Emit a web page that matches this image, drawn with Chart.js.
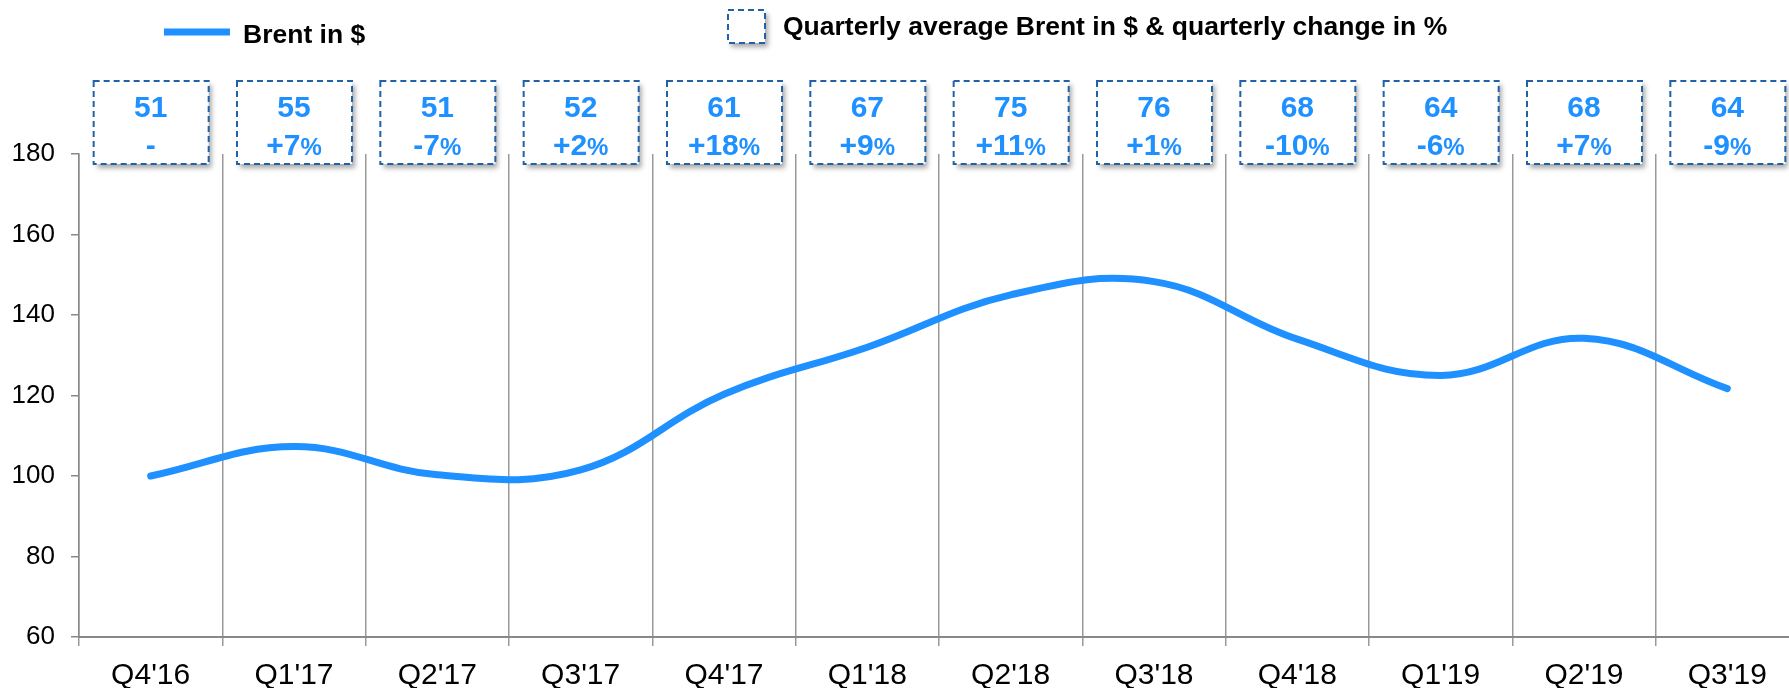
<!DOCTYPE html>
<html>
<head>
<meta charset="utf-8">
<title>Brent</title>
<script src="https://cdn.jsdelivr.net/npm/chart.js@4.4.1/dist/chart.umd.min.js"></script>
<style>
  html, body { margin: 0; padding: 0; background: #fff; overflow: hidden; }
  canvas { display: block; }
</style>
</head>
<body>
<canvas id="brentChart" width="1800" height="688"></canvas>
<script>
/* =========================
    DATA
========================= */

const quarters = ["Q4'16", "Q1'17", "Q2'17", "Q3'17", "Q4'17", "Q1'18",
                  "Q2'18", "Q3'18", "Q4'18", "Q1'19", "Q2'19", "Q3'19"];

// Brent index (Q4'16 = 100)
const brentIndex = [100, 107.3, 100.3, 101.5, 120.3, 132, 145, 148.3, 134, 125, 134.2, 121.7];

// quarterly average in $ and change vs. previous quarter in %
const avgPrice = [51, 55, 51, 52, 61, 67, 75, 76, 68, 64, 68, 64];
const qoqChange = [null, 7, -7, 2, 18, 9, 11, 1, -10, -6, 7, -9];

const yTicks = [60, 80, 100, 120, 140, 160, 180];


/* =========================
    STYLE
========================= */

const BLUE = "#1E90FF";
const BOX_BORDER = "#1F62A8";
const FONT = "'Liberation Sans', Arial, sans-serif";


/* =========================
    HELPERS
========================= */

// white box with soft shadow and dashed border
function dashedBox(ctx, x, y, w, h) {
  ctx.save();
  ctx.shadowColor = "rgba(0,0,0,0.35)";
  ctx.shadowBlur = 5;
  ctx.shadowOffsetX = 3;
  ctx.shadowOffsetY = 4;
  ctx.fillStyle = "#fff";
  ctx.fillRect(x, y, w, h);
  ctx.restore();

  ctx.save();
  ctx.strokeStyle = BOX_BORDER;
  ctx.lineWidth = 2;
  ctx.setLineDash([6, 4]);
  ctx.strokeRect(x, y, w, h);
  ctx.restore();
}

function changeText(c) {
  if (c === null) return null;
  return (c > 0 ? "+" : "") + c;
}


/* =========================
    BOXES + LEGEND PLUGIN
========================= */

const quarterBoxes = {
  id: "quarterBoxes",
  afterDraw(chart) {
    const ctx = chart.ctx;
    const xs = chart.scales.x;

    // legend
    ctx.save();
    ctx.strokeStyle = BLUE;
    ctx.lineWidth = 7;
    ctx.beginPath();
    ctx.moveTo(164, 32);
    ctx.lineTo(230, 32);
    ctx.stroke();
    ctx.fillStyle = "#000";
    ctx.font = "bold 26.5px " + FONT;
    ctx.textBaseline = "alphabetic";
    ctx.textAlign = "left";
    ctx.fillText("Brent in $", 243, 43);
    ctx.restore();

    dashedBox(ctx, 728, 10, 37, 33);
    ctx.save();
    ctx.fillStyle = "#000";
    ctx.font = "bold 26.5px " + FONT;
    ctx.textAlign = "left";
    ctx.fillText("Quarterly average Brent in $ & quarterly change in %", 783, 35);
    ctx.restore();

    // one box per quarter
    quarters.forEach((q, i) => {
      const cx = xs.getPixelForValue(i);
      dashedBox(ctx, cx - 57, 81, 115, 83);

      ctx.save();
      ctx.fillStyle = BLUE;
      ctx.textBaseline = "alphabetic";
      ctx.textAlign = "center";
      ctx.font = "bold 30px " + FONT;
      ctx.fillText(String(avgPrice[i]), cx, 117);

      const num = changeText(qoqChange[i]);
      if (num === null) {
        ctx.fillText("-", cx, 155);
      } else {
        ctx.textAlign = "left";
        ctx.font = "bold 30px " + FONT;
        const w1 = ctx.measureText(num).width;
        ctx.font = "bold 24px " + FONT;
        const w2 = ctx.measureText("%").width;
        const start = cx - (w1 + w2) / 2;
        ctx.font = "bold 30px " + FONT;
        ctx.fillText(num, start, 155);
        ctx.font = "bold 24px " + FONT;
        ctx.fillText("%", start + w1, 155);
      }
      ctx.restore();
    });
  }
};


/* =========================
    CHART
========================= */

new Chart(document.getElementById("brentChart"), {
  type: "line",
  data: {
    labels: quarters,
    datasets: [{
      label: "Brent in $",
      data: brentIndex,
      borderColor: BLUE,
      borderWidth: 7,
      tension: 0.4,
      pointRadius: 0,
      borderCapStyle: "round",
      borderJoinStyle: "round",
      fill: false
    }]
  },
  options: {
    responsive: false,
    animation: false,
    layout: { padding: { top: 154, right: 1, left: 0, bottom: 0 } },
    plugins: {
      legend: { display: false },
      tooltip: { enabled: false }
    },
    scales: {
      x: {
        offset: true,
        grid: { offset: true, color: "#999", lineWidth: 1.5, tickLength: 9 },
        border: { color: "#888", width: 2 },
        ticks: {
          color: "#000",
          font: { family: FONT, size: 30 },
          padding: 12,
          maxRotation: 0,
          autoSkip: false
        },
        afterFit: s => { s.height = 51; }
      },
      y: {
        min: 60,
        max: 180,
        grid: { drawOnChartArea: false, tickLength: 8, color: "#888", lineWidth: 1.5 },
        border: { color: "#888", width: 1.5 },
        ticks: {
          color: "#000",
          font: { family: FONT, size: 26 },
          padding: 16
        },
        afterBuildTicks: s => { s.ticks = yTicks.map(v => ({ value: v })); },
        afterFit: s => { s.width = 79; }
      }
    }
  },
  plugins: [quarterBoxes]
});
</script>
</body>
</html>
